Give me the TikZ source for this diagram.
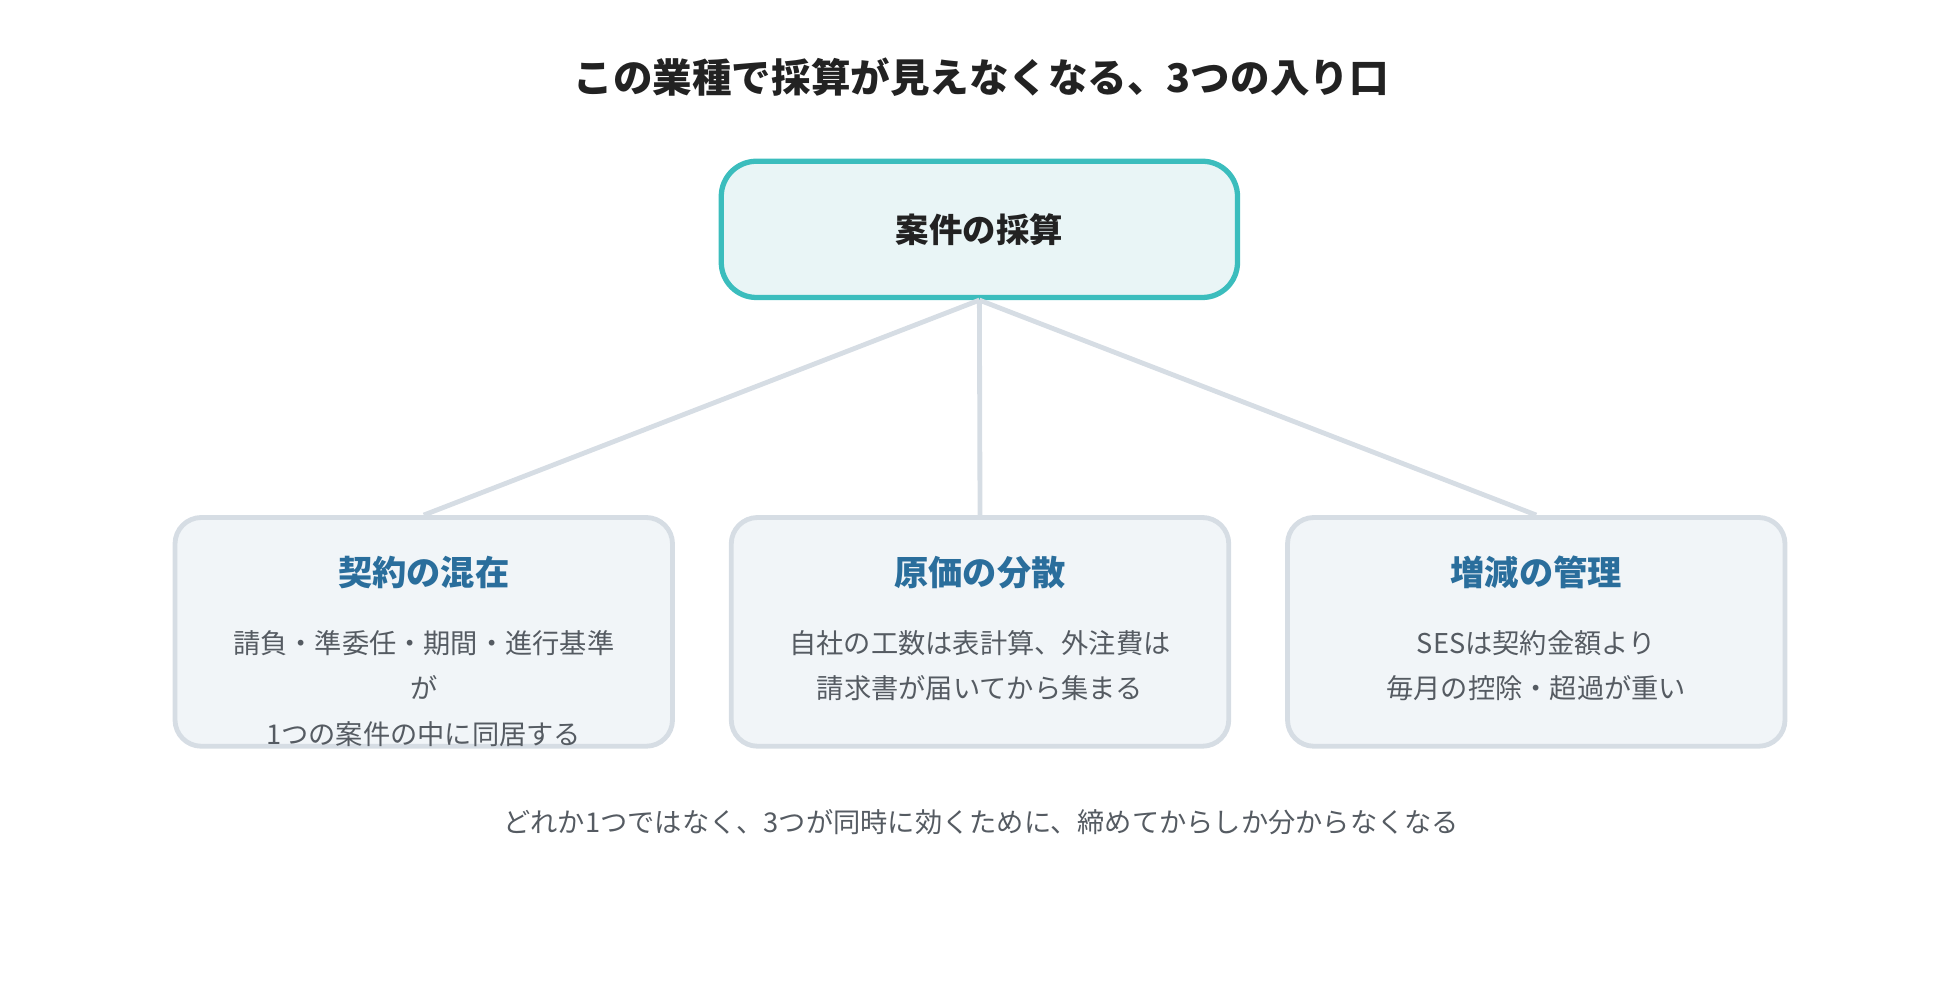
\documentclass[tikz,border=0pt]{standalone}
\usepackage{fontspec}
\setmainfont{Noto Sans CJK JP}
\newfontfamily\cjkbold{Noto Sans CJK JP}[BoldFont={* Bold}]
\definecolor{tealline}{HTML}{3BBDBD}
\definecolor{tealfill}{HTML}{E9F5F6}
\definecolor{boxfill}{HTML}{F1F5F8}
\definecolor{boxline}{HTML}{D6DDE4}
\definecolor{headblue}{HTML}{2A6E9C}
\definecolor{bodygray}{HTML}{555B62}
\definecolor{titlegray}{HTML}{222222}
\tikzset{
  root/.style={draw=tealline, fill=tealfill, line width=1.2pt, rounded corners=8pt,
    minimum width=4.13cm, minimum height=1.09cm, font=\fontsize{7.6pt}{9pt}\selectfont\bfseries, text=titlegray},
  leaf/.style={draw=boxline, fill=boxfill, line width=1.1pt, rounded corners=6pt,
    minimum width=3.98cm, minimum height=1.83cm},
  head/.style={font=\fontsize{7.8pt}{9pt}\selectfont\bfseries, text=headblue},
  body/.style={font=\fontsize{6.2pt}{10.3pt}\selectfont, text=bodygray, align=center},
  link/.style={draw=boxline, line width=1.1pt}
}
\begin{document}
\begin{tikzpicture}
\useasboundingbox (0,0) rectangle (15.68,8);
\node[font=\fontsize{9pt}{10pt}\selectfont\bfseries, text=titlegray] (title) at (7.85,7.38) {この業種で採算が見えなくなる、3つの入り口};
\node[root] (case) at (7.835,6.165) {案件の採算};
\node[leaf] (mix) at (3.39,2.945) {};
\node[leaf] (cost) at (7.84,2.945) {};
\node[leaf] (diff) at (12.29,2.945) {};
\node[head] (h1) at (3.39,3.42) {契約の混在};
\node[head] (h2) at (7.84,3.42) {原価の分散};
\node[head] (h3) at (12.29,3.42) {増減の管理};
\node[body, anchor=north] (b1) at (3.39,3.08) {請負・準委任・期間・進行基準\\が\\1つの案件の中に同居する};
\node[body, anchor=north] (b2) at (7.84,3.08) {自社の工数は表計算、外注費は\\請求書が届いてから集まる};
\node[body, anchor=north] (b3) at (12.29,3.08) {SESは契約金額より\\毎月の控除・超過が重い};
\draw[link] (case.south) -- (mix.north);
\draw[link] (case.south) -- (cost.north);
\draw[link] (case.south) -- (diff.north);
\node[body] (note) at (7.85,1.42) {どれか1つではなく、3つが同時に効くために、締めてからしか分からなくなる};
\end{tikzpicture}
\end{document}
